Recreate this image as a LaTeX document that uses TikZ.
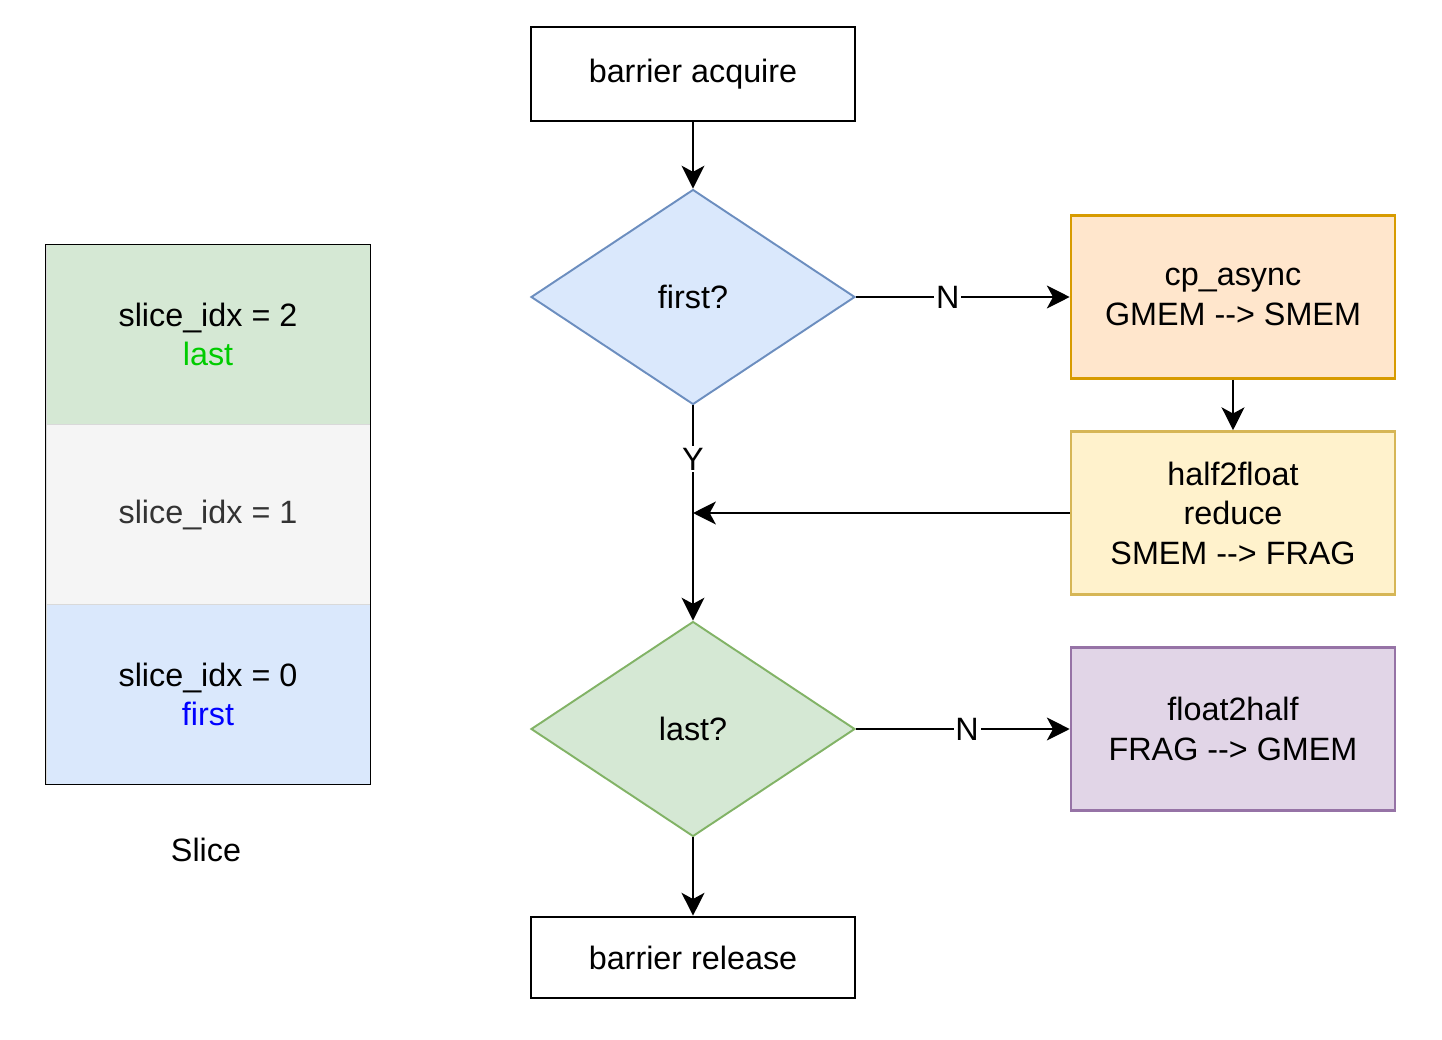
\documentclass[tikz,border=0pt]{standalone}
\usepackage{fontspec}
\setmainfont{Liberation Sans}
\usepackage{xcolor}
\usetikzlibrary{arrows.meta,shapes.geometric}

\definecolor{blueFill}{HTML}{DAE8FC}
\definecolor{blueLine}{HTML}{6C8EBF}
\definecolor{greenFill}{HTML}{D5E8D4}
\definecolor{greenLine}{HTML}{82B366}
\definecolor{orangeFill}{HTML}{FFE6CC}
\definecolor{orangeLine}{HTML}{D79B00}
\definecolor{yellowFill}{HTML}{FFF2CC}
\definecolor{yellowLine}{HTML}{D6B656}
\definecolor{purpleFill}{HTML}{E1D5E7}
\definecolor{purpleLine}{HTML}{9673A6}
\definecolor{grayFill}{HTML}{F5F5F5}
\definecolor{grayText}{HTML}{333333}
\definecolor{lastText}{HTML}{00CC00}
\definecolor{firstText}{HTML}{0000FF}

\begin{document}
\begin{tikzpicture}[x=0.02cm,y=-0.02cm,line width=1.1pt,
  font=\fontsize{18.4}{22.5}\selectfont,
  >={Stealth[length=13pt,width=13pt,inset=3.5pt]},
  stepbox/.style={draw,line width=1.5pt,align=center,minimum width=6.48cm,inner sep=0pt},
  check/.style={diamond,draw,minimum width=6.48cm,minimum height=4.3cm,inner sep=0pt},
  slicebox/.style={draw=black!15,line width=0.4pt,align=center,minimum width=6.48cm,minimum height=3.6cm,inner sep=0pt},
  flag/.style={fill=white,inner sep=1pt}]

\useasboundingbox (0,0) rectangle (1442,1040);

% slices
\node[slicebox,fill=greenFill] (SliceTwo) at (208,334.5) {slice\_idx = 2\\\textcolor{lastText}{last}};
\node[slicebox,fill=grayFill,text=grayText] (SliceOne) at (208,514.5) {slice\_idx = 1};
\node[slicebox,fill=blueFill] (SliceZero) at (208,694.5) {slice\_idx = 0\\\textcolor{firstText}{first}};
\draw[line width=0.6pt] (SliceTwo.north west) rectangle (SliceZero.south east);
\node (SliceLabel) at (206,850) {Slice};

% flow
\node[stepbox,minimum height=1.88cm] (BarrierAcquire) at (693,74) {barrier acquire};
\node[check,fill=blueFill,draw=blueLine] (FirstCheck) at (693,297) {first?};
\node[check,fill=greenFill,draw=greenLine] (LastCheck) at (693,729) {last?};
\node[stepbox,minimum height=1.62cm] (BarrierRelease) at (693,957.5) {barrier release};

% side boxes
\node[stepbox,fill=orangeFill,draw=orangeLine,minimum height=3.26cm] (CpAsync) at (1233,297) {cp\_async\\GMEM {-}{-}> SMEM};
\node[stepbox,fill=yellowFill,draw=yellowLine,minimum height=3.26cm] (HalfReduce) at (1233,513) {half2float\\reduce\\SMEM {-}{-}> FRAG};
\node[stepbox,fill=purpleFill,draw=purpleLine,minimum height=3.26cm] (FloatHalf) at (1233,729) {float2half\\FRAG {-}{-}> GMEM};

\coordinate (MergePoint) at (HalfReduce.west -| FirstCheck.south);

\draw[->] (BarrierAcquire) to (FirstCheck);
\draw[->] (FirstCheck) to node[flag,pos=0.43] {N} (CpAsync);
\draw[->] (CpAsync) to (HalfReduce);
\draw[->] (FirstCheck) to node[flag,pos=0.25] {Y} (LastCheck);
\draw[->] (HalfReduce) to (MergePoint);
\draw[->] (LastCheck) to node[flag,pos=0.52] {N} (FloatHalf);
\draw[->] (LastCheck) to (BarrierRelease);

\end{tikzpicture}
\end{document}
